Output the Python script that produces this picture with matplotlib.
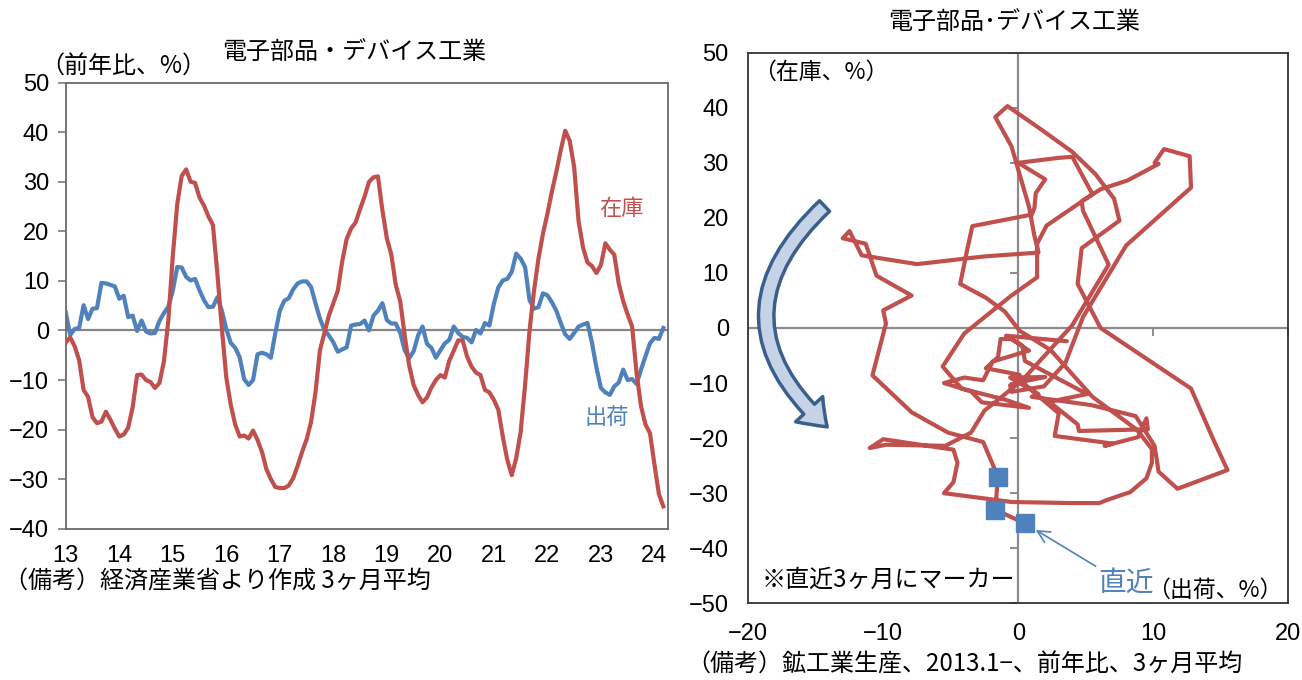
import numpy as np
import matplotlib
matplotlib.use("Agg")
import matplotlib.pyplot as plt
from matplotlib import font_manager
from matplotlib.patches import FancyArrowPatch

# Electronic parts & devices industry, y/y %, 3-month average, 2013.1 - 2024.3
year_labels = ["13", "14", "15", "16", "17", "18", "19", "20", "21", "22", "23", "24"]

inventory = [
    -2.4, -1.4, -3.2, -6.0, -12.0, -13.4, -17.5, -18.7, -18.4, -16.4, -18.0, -19.8,
    -21.4, -21.0, -19.6, -15.5, -9.0, -8.9, -10.0, -10.4, -11.6, -10.6, -6.3, 2.0,
    15.0, 25.5, 31.2, 32.5, 30.0, 29.8, 26.8, 25.2, 23.0, 21.3, 11.5, 0.5,
    -9.5, -15.0, -19.0, -21.4, -21.2, -21.8, -20.2, -22.1, -24.5, -28.0, -30.0, -31.6,
    -31.8, -31.8, -31.3, -29.8, -27.3, -24.5, -22.0, -18.5, -12.5, -4.0, -0.5, 3.0,
    5.5, 8.0, 14.0, 18.5, 20.6, 21.8, 24.5, 27.0, 30.0, 30.9, 31.1, 24.3,
    18.6, 15.3, 9.2, 5.9, -1.0, -7.0, -11.0, -13.0, -14.5, -13.5, -11.5, -10.0,
    -9.0, -9.5, -6.1, -4.1, -2.0, -2.0, -5.3, -7.3, -8.5, -9.0, -12.0, -12.5,
    -14.0, -16.0, -21.4, -26.1, -29.2, -25.8, -20.5, -11.0, 0.0, 8.0, 14.5, 19.5,
    23.5, 28.0, 32.0, 36.4, 40.3, 38.3, 33.0, 22.0, 16.7, 13.7, 13.0, 11.6,
    13.2, 17.6, 16.3, 15.3, 9.5, 5.9, 3.2, 0.8, -8.6, -15.3, -19.0, -20.7,
    -27.0, -33.0, -35.5,
]

shipments = [
    3.6, -0.9, 0.3, 0.5, 5.1, 2.3, 4.4, 4.5, 9.6, 9.5, 9.2, 8.9,
    6.4, 7.0, 2.7, 3.0, -0.1, 2.0, -0.2, -0.6, -0.5, 1.9, 3.5, 4.8,
    8.0, 12.8, 12.7, 10.8, 10.1, 10.4, 8.1, 6.1, 4.7, 4.8, 6.7, 4.0,
    0.3, -2.5, -3.5, -5.4, -9.8, -11.0, -10.0, -4.8, -4.5, -4.8, -5.5, -0.5,
    4.0, 6.0, 6.5, 8.3, 9.5, 9.9, 9.9, 8.8, 5.5, 2.4, 0.1, -1.0,
    -2.4, -4.3, -3.8, -3.4, 1.0, 1.2, 1.3, 2.0, 0.0, 3.0, 4.0, 5.5,
    2.1, 1.4, 1.4, -0.5, -4.0, -5.6, -4.2, -1.0, 0.8, -2.7, -3.5, -5.5,
    -4.0, -2.6, -1.9, 0.8, -0.5, -1.3, -1.5, -2.4, 0.1, -0.6, 1.5, 1.0,
    5.4, 8.7, 10.1, 10.4, 11.8, 15.5, 14.5, 12.8, 6.1, 4.4, 4.7, 7.5,
    7.1, 5.7, 4.0, 1.5, -0.8, -1.7, -0.5, 0.8, 1.2, 1.5, -2.5, -7.5,
    -11.6, -12.5, -13.0, -11.3, -10.5, -7.9, -10.0, -9.8, -10.8, -7.9, -5.2, -2.6,
    -1.5, -1.7, 0.5,
]

left_yticks = list(range(-40, 51, 10))
right_xticks = list(range(-20, 21, 10))
right_yticks = list(range(-50, 51, 10))


def available(name):
    try:
        font_manager.findfont(name, fallback_to_default=False)
        return True
    except Exception:
        return False


JP = "Noto Sans CJK JP"
NUM = "Liberation Sans Narrow" if available("Liberation Sans Narrow") else "Liberation Sans"
plt.rcParams["font.family"] = [JP, "DejaVu Sans"]
plt.rcParams["axes.unicode_minus"] = True

RED = "#C0504D"
BLUE = "#4F81BD"
GRAY = "#868686"
TICK = 17
JTXT = 17.3

fig = plt.figure(figsize=(13.02, 6.8), dpi=100)

# ---------------- left: time series ----------------
ax1 = fig.add_axes([0.0505, 0.2225, 0.4624, 0.6559])
months = np.arange(len(inventory))
ax1.axhline(0, color=GRAY, lw=1.6, zorder=1)
ax1.plot(months, shipments, color=BLUE, lw=3.0, solid_joinstyle="round", zorder=2)
ax1.plot(months, inventory, color=RED, lw=3.0, solid_joinstyle="round", zorder=3)
ax1.set_xlim(0, 135)
ax1.set_ylim(-40, 50)
ax1.set_yticks(left_yticks)
ax1.set_xticks(np.arange(0, 12 * len(year_labels), 12))
ax1.set_xticklabels(year_labels)
ax1.tick_params(axis="y", direction="out", length=6, width=1.3, color=GRAY, pad=6)
ax1.tick_params(axis="x", length=0, pad=12)
for s in ax1.spines.values():
    s.set_color("#6b6b6b")
    s.set_linewidth(1.3)
for lab in ax1.get_xticklabels() + ax1.get_yticklabels():
    lab.set_fontfamily(NUM)
    lab.set_fontsize(TICK)

ax1.text(124.7, 24.6, "在庫", color=RED, fontsize=16, ha="center", va="center")
ax1.text(121.4, -17.6, "出荷", color=BLUE, fontsize=16, ha="center", va="center")

fig.text(354 / 1302, 1 - 52 / 680, "電子部品・デバイス工業", fontsize=JTXT,
         ha="center", va="center")
fig.text(40 / 1302, 1 - 67 / 680, "（前年比、%）", fontsize=JTXT,
         ha="left", va="center")
fig.text(4 / 1302, 1 - 582 / 680, "（備考）経済産業省より作成 3ヶ月平均",
         fontsize=JTXT, ha="left", va="center")

# ---------------- right: shipments vs inventory ----------------
ax2 = fig.add_axes([0.5747, 0.1128, 0.4147, 0.8097])
ax2.set_xlim(-20, 20)
ax2.set_ylim(-50, 50)
ax2.axhline(0, color="#8c8c8c", lw=1.6, zorder=1)
ax2.axvline(0, color="#8c8c8c", lw=1.6, zorder=1)
ax2.plot(np.zeros(len(right_yticks)), right_yticks, ls="none", marker=0, ms=6,
         mew=1.4, color="#8c8c8c", zorder=1)
ax2.plot(right_xticks, np.zeros(len(right_xticks)), ls="none", marker=3, ms=6,
         mew=1.4, color="#8c8c8c", zorder=1)

ax2.plot(shipments, inventory, color=RED, lw=3.0, solid_joinstyle="round",
         solid_capstyle="round", zorder=3)
ax2.plot(shipments[-3:], inventory[-3:], ls="none", marker="s", ms=13,
         color=BLUE, zorder=4)

ax2.set_xticks(right_xticks)
ax2.set_yticks(right_yticks)
ax2.tick_params(axis="both", length=0)
ax2.tick_params(axis="y", pad=14)
ax2.tick_params(axis="x", pad=14)
for s in ax2.spines.values():
    s.set_color("#333333")
    s.set_linewidth(1.3)
for lab in ax2.get_xticklabels() + ax2.get_yticklabels():
    lab.set_fontfamily(NUM)
    lab.set_fontsize(TICK)

cycle = FancyArrowPatch((-14.2, 22.5), (-14.0, -18.3),
                        connectionstyle="arc3,rad=0.55",
                        arrowstyle="simple,head_length=1.3,head_width=1.9,tail_width=0.75",
                        mutation_scale=14, fc="#c6d3e7", ec="#3b5f8c", lw=2.5,
                        zorder=5)
ax2.add_patch(cycle)

ax2.annotate("直近", xy=(shipments[-1], inventory[-1]), xytext=(8.0, -46.3),
             textcoords="data", ha="center", va="center", color=BLUE, fontsize=20,
             arrowprops=dict(arrowstyle="->", color=BLUE, lw=1.2, shrinkA=0,
                             shrinkB=9, relpos=(0.0, 1.0), mutation_scale=22))

ax2.text(0.008, 0.965, "（在庫、%）", transform=ax2.transAxes, fontsize=16.5,
         ha="left", va="center")
ax2.text(0.024, 0.043, "※直近3ヶ月にマーカー", transform=ax2.transAxes,
         fontsize=JTXT, ha="left", va="center")
ax2.text(0.99, 0.024, "（出荷、%）", transform=ax2.transAxes, fontsize=16.5,
         ha="right", va="center")

fig.text(1014 / 1302, 1 - 22 / 680, "電子部品･デバイス工業", fontsize=JTXT,
         ha="center", va="center")
fig.text(686 / 1302, 1 - 665 / 680, "（備考）鉱工業生産、2013.1−、前年比、3ヶ月平均",
         fontsize=JTXT, ha="left", va="center")

fig.savefig("out.png", dpi=100)
